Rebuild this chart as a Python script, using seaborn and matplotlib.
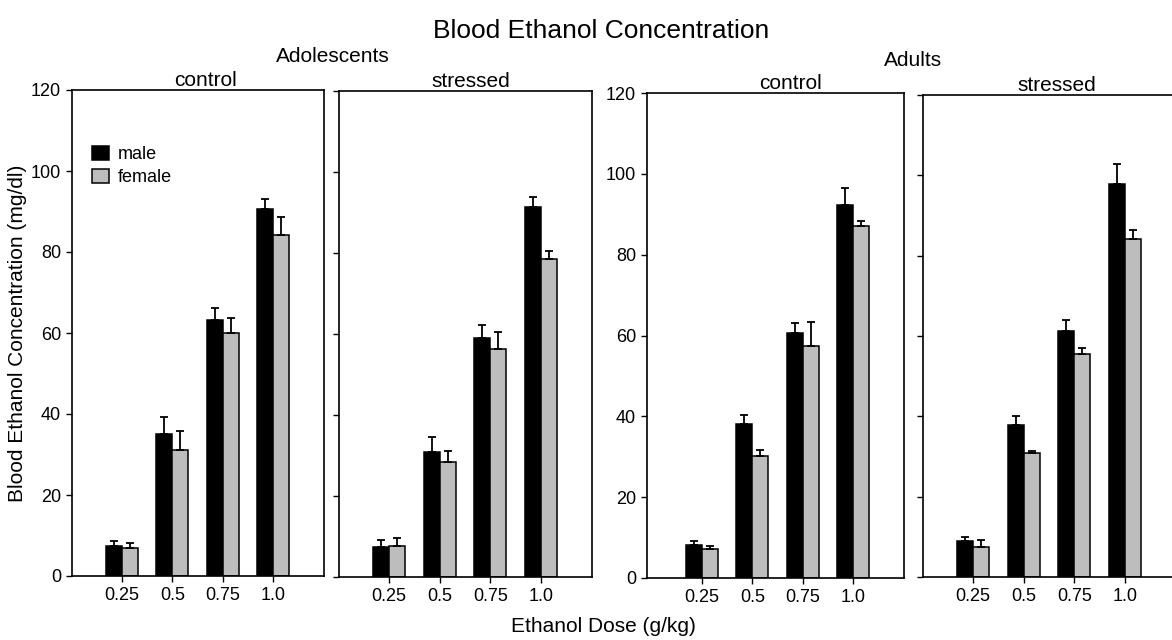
import numpy as np
import pandas as pd
import seaborn as sns
import matplotlib
matplotlib.use('Agg')
import matplotlib.pyplot as plt

# dose categories on the x axis
doses = ['0.25', '0.5', '0.75', '1.0']

# mean blood ethanol concentration (mg/dl) and SEM
adol_ctrl_male = [7.5, 35.0, 63.3, 90.5]
adol_ctrl_male_se = [1.1, 4.3, 2.8, 2.7]
adol_ctrl_female = [6.8, 31.2, 60.1, 84.2]
adol_ctrl_female_se = [1.3, 4.5, 3.6, 4.4]

adol_str_male = [7.3, 30.9, 59.1, 91.4]
adol_str_male_se = [1.9, 3.6, 3.0, 2.5]
adol_str_female = [7.7, 28.3, 56.2, 78.4]
adol_str_female_se = [2.0, 2.7, 4.4, 2.2]

adult_ctrl_male = [8.2, 38.1, 60.6, 92.3]
adult_ctrl_male_se = [0.9, 2.3, 2.5, 4.2]
adult_ctrl_female = [7.1, 30.1, 57.4, 87.1]
adult_ctrl_female_se = [0.9, 1.5, 5.9, 1.2]

adult_str_male = [8.9, 37.8, 61.3, 97.8]
adult_str_male_se = [1.1, 2.4, 2.6, 5.1]
adult_str_female = [7.5, 30.8, 55.4, 84.1]
adult_str_female_se = [1.8, 0.5, 1.7, 2.3]

groups = [
    ('Adolescents', 'control', 'male', adol_ctrl_male, adol_ctrl_male_se),
    ('Adolescents', 'control', 'female', adol_ctrl_female, adol_ctrl_female_se),
    ('Adolescents', 'stressed', 'male', adol_str_male, adol_str_male_se),
    ('Adolescents', 'stressed', 'female', adol_str_female, adol_str_female_se),
    ('Adults', 'control', 'male', adult_ctrl_male, adult_ctrl_male_se),
    ('Adults', 'control', 'female', adult_ctrl_female, adult_ctrl_female_se),
    ('Adults', 'stressed', 'male', adult_str_male, adult_str_male_se),
    ('Adults', 'stressed', 'female', adult_str_female, adult_str_female_se),
]

rows = []
for age, cond, sex, means, ses in groups:
    for d, m, s in zip(doses, means, ses):
        rows.append({'age': age, 'condition': cond, 'sex': sex,
                     'dose': d, 'bec': m, 'se': s})
df = pd.DataFrame(rows)

sns.set_style('white')
plt.rcParams['font.family'] = ['Liberation Sans', 'DejaVu Sans']
plt.rcParams['text.color'] = 'black'
plt.rcParams['axes.labelcolor'] = 'black'
plt.rcParams['xtick.color'] = 'black'
plt.rcParams['ytick.color'] = 'black'

W, H = 1172, 640
fig = plt.figure(figsize=(W / 100, H / 100), dpi=100)

# panel boxes in pixels: left, right, top, bottom; plus x-limit start and title x
panels = [
    ('Adolescents', 'control', (72, 324, 90, 576), -0.99, True, 0.528),
    ('Adolescents', 'stressed', (339, 592, 91, 577), -0.99, False, 0.522),
    ('Adults', 'control', (647, 904, 93, 578), -1.09, True, 0.56),
    ('Adults', 'stressed', (923, 1176, 95, 577), -0.99, False, 0.53),
]

palette = {'male': 'black', 'female': '#bdbdbd'}

axes = []
for age, cond, (l, r, t, b), x0, show_labels, tx in panels:
    ax = fig.add_axes([l / W, (H - b) / H, (r - l) / W, (b - t) / H])
    sub = df[(df.age == age) & (df.condition == cond)]
    sns.barplot(data=sub, x='dose', y='bec', hue='sex', order=doses,
                hue_order=['male', 'female'], palette=palette,
                edgecolor='black', linewidth=1.1, width=0.63,
                errorbar=None, ax=ax)
    # one-sided error bars (mean + SEM)
    for sex, cont in zip(['male', 'female'], ax.containers):
        se = sub[sub.sex == sex].set_index('dose').loc[doses, 'se'].values
        for bar, e in zip(cont, se):
            xc = bar.get_x() + bar.get_width() / 2
            ax.errorbar(xc, bar.get_height(), yerr=[[0], [e]], fmt='none',
                        ecolor='black', elinewidth=1.3, capsize=3, capthick=1.3)
    ax.set_xlim(x0, 4.01)
    ax.set_ylim(0, 120)
    ax.set_yticks(np.arange(0, 121, 20))
    ax.set_xlabel('')
    ax.set_ylabel('')
    for sp in ax.spines.values():
        sp.set_visible(True)
        sp.set_color('black')
        sp.set_linewidth(1.2)
    ax.tick_params(axis='both', which='both', direction='out', length=4,
                   width=1.0, color='black', labelsize=13, pad=4,
                   bottom=True, left=True, top=False, right=False)
    if not show_labels:
        ax.set_yticklabels([])
    ax.set_title(cond, fontsize=15, pad=3, x=tx)
    if ax.get_legend() is not None:
        ax.get_legend().remove()
    axes.append(ax)

# legend in the first panel
handles = [plt.Rectangle((0, 0), 1, 1, facecolor=palette[s], edgecolor='black',
                         linewidth=1.1) for s in ['male', 'female']]
axes[0].legend(handles, ['male', 'female'], loc='upper left',
               bbox_to_anchor=(0.079, 0.885), frameon=False, fontsize=13,
               handlelength=0.95, handleheight=0.85, handletextpad=0.5,
               labelspacing=0.3, borderpad=0, borderaxespad=0)

fig.text(601 / W, 1 - 31 / H, 'Blood Ethanol Concentration', ha='center',
         va='center', fontsize=19)
fig.text(333 / W, 1 - 56 / H, 'Adolescents', ha='center', va='center', fontsize=15)
fig.text(913 / W, 1 - 60 / H, 'Adults', ha='center', va='center', fontsize=15)
fig.text(603 / W, 1 - 627 / H, 'Ethanol Dose (g/kg)', ha='center', va='center',
         fontsize=15)
fig.text(18 / W, 1 - 333 / H, 'Blood Ethanol Concentration (mg/dl)', ha='center',
         va='center', rotation=90, fontsize=15)

fig.savefig('out.png', dpi=100)
